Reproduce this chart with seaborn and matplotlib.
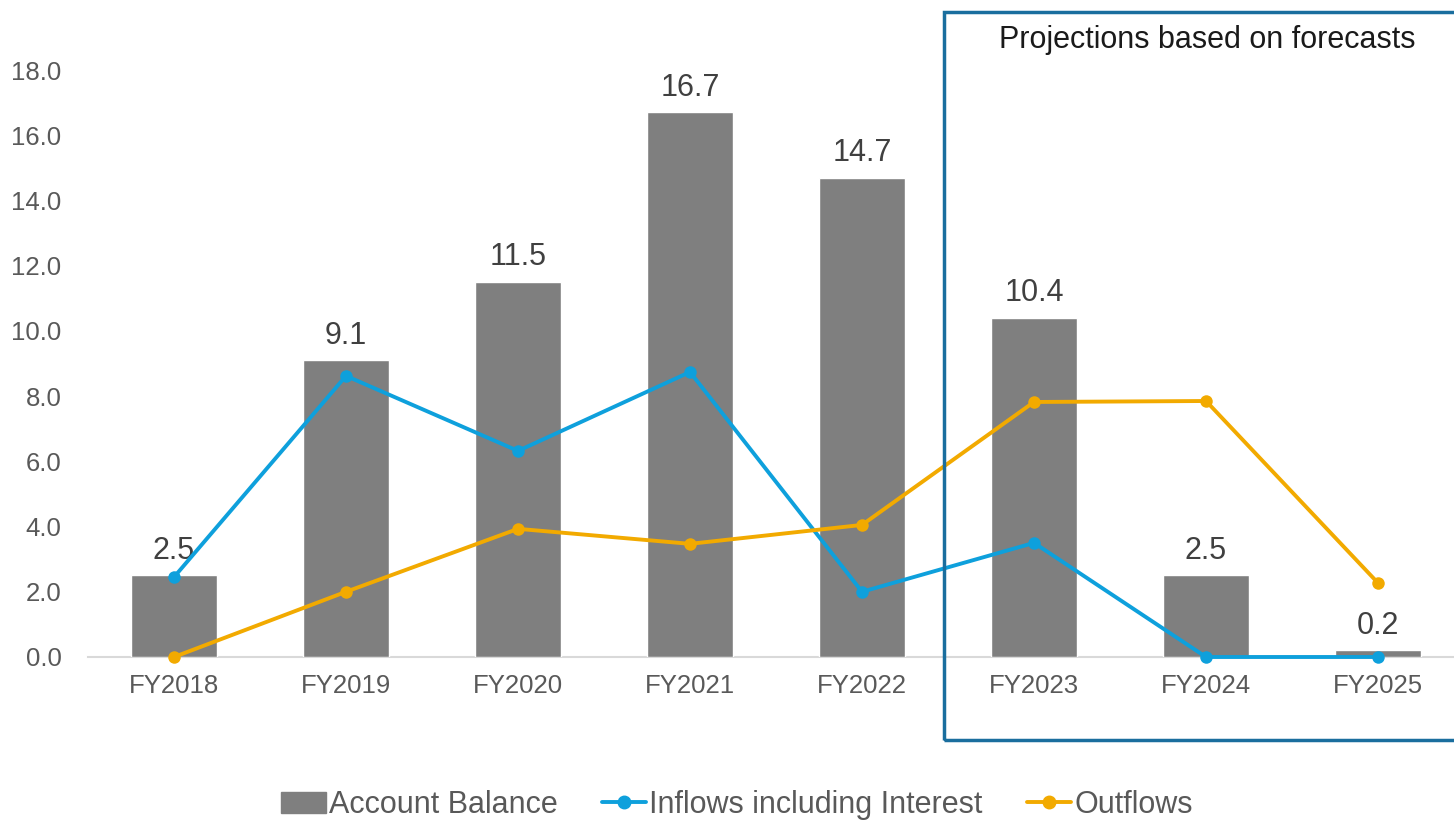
import matplotlib
matplotlib.use("Agg")
import matplotlib.pyplot as plt
import matplotlib.patches as mpatches
from matplotlib.lines import Line2D
import numpy as np
import pandas as pd
import seaborn as sns

# Data
years = ["FY2018", "FY2019", "FY2020", "FY2021", "FY2022", "FY2023", "FY2024", "FY2025"]
balance = [2.5, 9.1, 11.5, 16.7, 14.7, 10.4, 2.5, 0.2]
inflows = [2.45, 8.62, 6.32, 8.74, 2.0, 3.5, 0.0, 0.0]
outflows = [0.0, 2.0, 3.93, 3.47, 4.05, 7.82, 7.85, 2.27]

GRAY = "#7F7F7F"
BLUE = "#0EA0DC"
ORANGE = "#F2AA00"
BOX = "#1A6E9E"

sns.set_theme(style="white")
plt.rcParams["font.family"] = ["Liberation Sans", "DejaVu Sans"]

df = pd.DataFrame({"year": years, "balance": balance})

fig = plt.figure(figsize=(14.54, 8.24), dpi=100)
ax = fig.add_axes([88 / 1454, 167 / 824, 1376 / 1454, 587 / 824])

sns.barplot(data=df, x="year", y="balance", color=GRAY, width=0.5,
            saturation=1, ax=ax)
xs = np.arange(len(years))
for vals, col in [(inflows, BLUE), (outflows, ORANGE)]:
    sns.lineplot(x=xs, y=vals, color=col, linewidth=2.8, marker="o",
                 markersize=9, markeredgewidth=0, clip_on=False, zorder=5, ax=ax)

# bar value labels
for i, v in enumerate(balance):
    ax.annotate(f"{v:.1f}", (i, v), xytext=(0, 7), textcoords="offset points",
                ha="center", va="bottom", fontsize=22, color="#404040")

ax.set_xlim(-0.5, 7.5)
ax.set_ylim(0, 18)
ax.set_yticks(np.arange(0, 19, 2))
ax.set_yticklabels([f"{t:.1f}" for t in np.arange(0, 19, 2)])
ax.set_xlabel("")
ax.set_ylabel("")
ax.tick_params(axis="both", length=0, labelsize=18.5, colors="#595959")
ax.tick_params(axis="x", pad=12)
ax.tick_params(axis="y", pad=19)
for s in ["top", "right", "left"]:
    ax.spines[s].set_visible(False)
ax.spines["bottom"].set_color("#D9D9D9")
ax.spines["bottom"].set_linewidth(1.5)
ax.spines["bottom"].set_zorder(0)

# projections box
box = mpatches.Rectangle((944 / 1454, (824 - 740) / 824), 0.5, (740 - 12) / 824,
                         transform=fig.transFigure, fill=False,
                         edgecolor=BOX, linewidth=2.5, clip_on=False)
fig.patches.append(box)
fig.text(1207 / 1454, 1 - 40 / 824, "Projections based on forecasts",
         ha="center", va="center", fontsize=22, color="#1a1a1a")

handles = [
    mpatches.Patch(color=GRAY, label="Account Balance"),
    Line2D([], [], color=BLUE, lw=2.8, marker="o", markersize=9, label="Inflows including Interest"),
    Line2D([], [], color=ORANGE, lw=2.8, marker="o", markersize=9, label="Outflows"),
]
fig.legend(handles=handles, loc="center", bbox_to_anchor=(737 / 1454, 1 - 805 / 824),
           ncol=3, frameon=False, fontsize=22, handlelength=1.45,
           handletextpad=0.1, columnspacing=1.45, labelcolor="#595959")

fig.savefig("out.png", dpi=100)
